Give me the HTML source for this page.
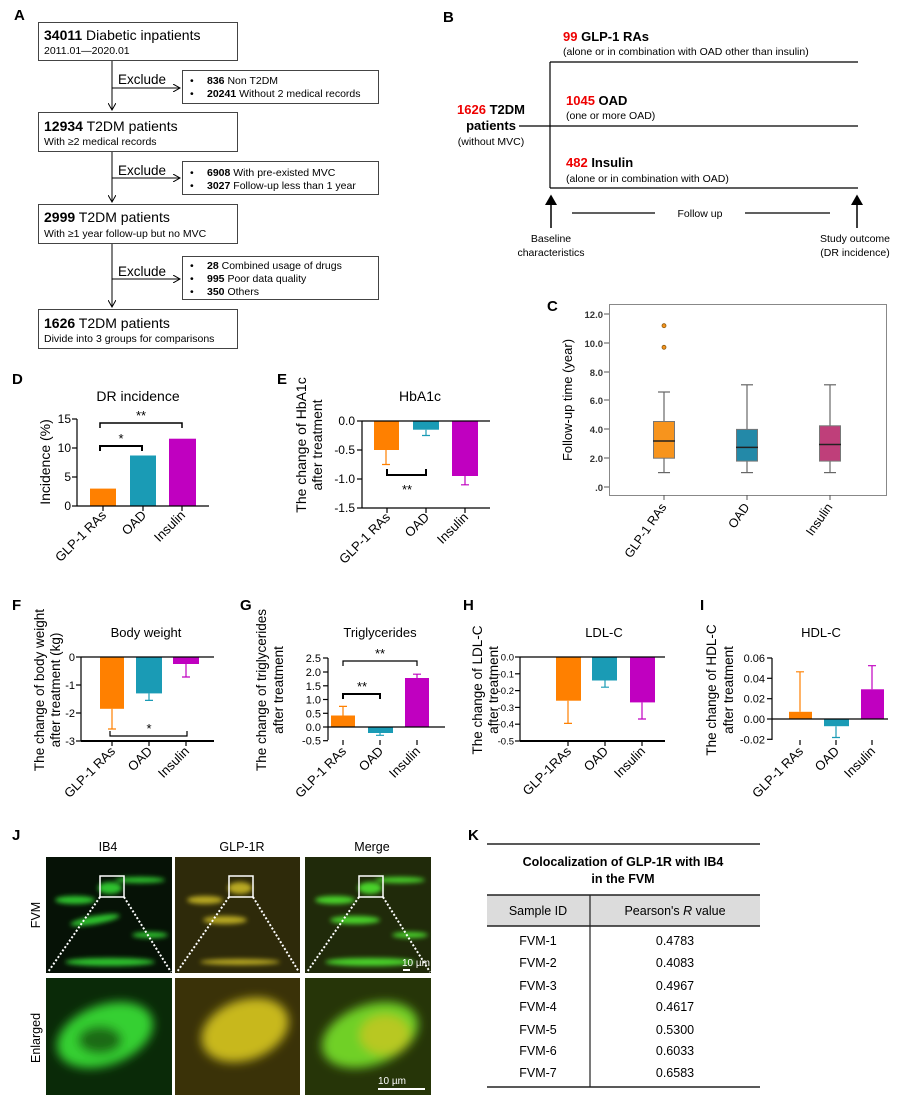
<!DOCTYPE html>
<html><head><meta charset="utf-8"><style>
html,body{margin:0;padding:0;background:#fff;}
svg{display:block;font-family:"Liberation Sans",Arial,sans-serif;}
</style></head><body>
<svg width="902" height="1095" viewBox="0 0 902 1095" xmlns="http://www.w3.org/2000/svg">
<defs>
<marker id="ah" markerWidth="8" markerHeight="8" refX="7" refY="4" orient="auto"><path d="M0,0 L7,4 L0,8" fill="none" stroke="#000" stroke-width="1"/></marker>
<marker id="ahb" markerWidth="8" markerHeight="8" refX="6" refY="4" orient="auto"><path d="M0,0 L7,4 L0,8 Z" fill="#000"/></marker>
<filter id="bl"><feGaussianBlur stdDeviation="2.5"/></filter>
<filter id="bl2"><feGaussianBlur stdDeviation="5"/></filter>
</defs>
<g font-size="15" font-weight="bold">
<text x="14" y="20">A</text><text x="443" y="22">B</text><text x="547" y="311">C</text>
<text x="12" y="384">D</text><text x="277" y="384">E</text>
<text x="12" y="610">F</text><text x="240" y="610">G</text><text x="463" y="610">H</text><text x="700" y="610">I</text>
<text x="12" y="840">J</text><text x="468" y="840">K</text>
</g>
<!-- Panel A -->
<g fill="none" stroke="#444" stroke-width="1">
<rect x="38.5" y="22.5" width="199" height="38"/>
<rect x="182.5" y="70.5" width="196" height="33"/>
<rect x="38.5" y="112.5" width="199" height="39"/>
<rect x="182.5" y="161.5" width="196" height="33"/>
<rect x="38.5" y="204.5" width="199" height="39"/>
<rect x="182.5" y="256.5" width="196" height="43"/>
<rect x="38.5" y="309.5" width="199" height="39"/>
</g>
<g stroke="#000" stroke-width="1" fill="none">
<line x1="112" y1="61" x2="112" y2="110" marker-end="url(#ah)"/>
<line x1="112" y1="88" x2="180" y2="88" marker-end="url(#ah)"/>
<line x1="112" y1="152" x2="112" y2="202" marker-end="url(#ah)"/>
<line x1="112" y1="178" x2="180" y2="178" marker-end="url(#ah)"/>
<line x1="112" y1="244" x2="112" y2="307" marker-end="url(#ah)"/>
<line x1="112" y1="279" x2="180" y2="279" marker-end="url(#ah)"/>
</g>
<g font-size="14">
<text x="44" y="40"><tspan font-weight="bold">34011</tspan> Diabetic inpatients</text>
<text x="44" y="131"><tspan font-weight="bold">12934</tspan> T2DM patients</text>
<text x="44" y="222"><tspan font-weight="bold">2999</tspan> T2DM patients</text>
<text x="44" y="328"><tspan font-weight="bold">1626</tspan> T2DM patients</text>
<text x="118" y="84" font-size="13.5">Exclude</text>
<text x="118" y="175" font-size="13.5">Exclude</text>
<text x="118" y="276" font-size="13.5">Exclude</text>
</g>
<g font-size="10.5">
<text x="44" y="54">2011.01—2020.01</text>
<text x="44" y="145">With ≥2 medical records</text>
<text x="44" y="237">With ≥1 year follow-up but no MVC</text>
<text x="44" y="342">Divide into 3 groups for comparisons</text>
<text x="190" y="84">•</text><text x="207" y="84"><tspan font-weight="bold">836</tspan> Non T2DM</text>
<text x="190" y="97">•</text><text x="207" y="97"><tspan font-weight="bold">20241</tspan> Without 2 medical records</text>
<text x="190" y="176">•</text><text x="207" y="176"><tspan font-weight="bold">6908</tspan> With pre-existed MVC</text>
<text x="190" y="189">•</text><text x="207" y="189"><tspan font-weight="bold">3027</tspan> Follow-up less than 1 year</text>
<text x="190" y="269">•</text><text x="207" y="269"><tspan font-weight="bold">28</tspan> Combined usage of drugs</text>
<text x="190" y="282">•</text><text x="207" y="282"><tspan font-weight="bold">995</tspan> Poor data quality</text>
<text x="190" y="295">•</text><text x="207" y="295"><tspan font-weight="bold">350</tspan> Others</text>
</g>
<!-- Panel B -->
<g stroke="#000" stroke-width="1.2">
<line x1="550" y1="62" x2="550" y2="188"/>
<line x1="550" y1="62" x2="858" y2="62"/>
<line x1="519" y1="126" x2="858" y2="126"/>
<line x1="550" y1="188" x2="858" y2="188"/>
<line x1="551" y1="228" x2="551" y2="196" stroke-width="1.5" marker-end="url(#ahb)"/>
<line x1="857" y1="228" x2="857" y2="196" stroke-width="1.5" marker-end="url(#ahb)"/>
<line x1="572" y1="213" x2="655" y2="213"/>
<line x1="745" y1="213" x2="830" y2="213"/>
</g>
<g font-size="13" font-weight="bold">
<text x="563" y="41"><tspan fill="#e00">99</tspan> GLP-1 RAs</text>
<text x="566" y="105"><tspan fill="#e00">1045</tspan> OAD</text>
<text x="566" y="167"><tspan fill="#e00">482</tspan> Insulin</text>
<text x="491" y="114" text-anchor="middle"><tspan fill="#e00">1626</tspan> T2DM</text>
<text x="491" y="130" text-anchor="middle">patients</text>
</g>
<g font-size="10.5">
<text x="563" y="55">(alone or in combination with OAD other than insulin)</text>
<text x="566" y="119">(one or more OAD)</text>
<text x="566" y="182">(alone or in combination with OAD)</text>
<text x="491" y="145" text-anchor="middle">(without MVC)</text>
<text x="700" y="217" text-anchor="middle">Follow up</text>
<text x="551" y="242" text-anchor="middle">Baseline</text>
<text x="551" y="256" text-anchor="middle">characteristics</text>
<text x="855" y="242" text-anchor="middle">Study outcome</text>
<text x="855" y="256" text-anchor="middle">(DR incidence)</text>
</g>
<!-- Panel C -->
<rect x="609.5" y="304.5" width="277" height="191" fill="none" stroke="#888" stroke-width="1"/>
<g font-size="9.5" font-weight="bold" fill="#333" text-anchor="end">
<text x="603" y="318">12.0</text><text x="603" y="347">10.0</text><text x="603" y="376">8.0</text>
<text x="603" y="404">6.0</text><text x="603" y="433">4.0</text><text x="603" y="462">2.0</text><text x="603" y="491">.0</text>
</g>
<g stroke="#555" stroke-width="1">
<line x1="604" y1="314" x2="609" y2="314"/><line x1="604" y1="343" x2="609" y2="343"/><line x1="604" y1="372" x2="609" y2="372"/><line x1="604" y1="400" x2="609" y2="400"/><line x1="604" y1="429" x2="609" y2="429"/><line x1="604" y1="458" x2="609" y2="458"/><line x1="604" y1="487" x2="609" y2="487"/>
<line x1="664" y1="495" x2="664" y2="500"/><line x1="747" y1="495" x2="747" y2="500"/><line x1="830" y1="495" x2="830" y2="500"/>
</g>
<text transform="translate(572,400) rotate(-90)" font-size="13" text-anchor="middle">Follow-up time (year)</text>
<g stroke="#666" stroke-width="1.2">
<line x1="664" y1="472.6" x2="664" y2="392"/><line x1="658" y1="472.6" x2="670" y2="472.6"/><line x1="658" y1="392" x2="670" y2="392"/>
<line x1="747" y1="472.6" x2="747" y2="384.8"/><line x1="741" y1="472.6" x2="753" y2="472.6"/><line x1="741" y1="384.8" x2="753" y2="384.8"/>
<line x1="830" y1="472.6" x2="830" y2="384.8"/><line x1="824" y1="472.6" x2="836" y2="472.6"/><line x1="824" y1="384.8" x2="836" y2="384.8"/>
</g>
<rect x="653.5" y="421.5" width="21" height="36.7" fill="#f7941d" stroke="#777"/>
<rect x="736.5" y="429.4" width="21" height="31.7" fill="#2389a8" stroke="#777"/>
<rect x="819.5" y="425.8" width="21" height="35.3" fill="#bf3f7a" stroke="#777"/>
<g stroke="#222" stroke-width="1.5"><line x1="653" y1="441" x2="675" y2="441"/><line x1="736" y1="447.4" x2="758" y2="447.4"/><line x1="819" y1="444.5" x2="841" y2="444.5"/></g>
<circle cx="664" cy="347.3" r="2" fill="#f7941d" stroke="#8a5a10" stroke-width="0.8"/>
<circle cx="664" cy="325.7" r="2" fill="#f7941d" stroke="#8a5a10" stroke-width="0.8"/>
<g font-size="12.5" text-anchor="end">
<text transform="translate(667,507) rotate(-55)">GLP-1 RAs</text>
<text transform="translate(750,507) rotate(-55)">OAD</text>
<text transform="translate(833,507) rotate(-55)">Insulin</text>
</g>
<!-- Panel D -->
<text x="138" y="401" font-size="14" text-anchor="middle">DR incidence</text>
<text transform="translate(50,462) rotate(-90)" font-size="14" text-anchor="middle">Incidence (%)</text>
<rect x="90" y="488.6" width="26" height="17.4" fill="#ff8000"/>
<rect x="130" y="455.5" width="26" height="50.5" fill="#1a9bb5"/>
<rect x="169" y="438.7" width="27" height="67.3" fill="#c000c0"/>
<g stroke="#000" stroke-width="1.2" fill="none">
<line x1="77" y1="419" x2="77" y2="506"/><line x1="77" y1="506" x2="209" y2="506"/>
<line x1="72" y1="419" x2="77" y2="419"/><line x1="72" y1="448" x2="77" y2="448"/><line x1="72" y1="477" x2="77" y2="477"/><line x1="72" y1="506" x2="77" y2="506"/>
<line x1="103" y1="506" x2="103" y2="511"/><line x1="143" y1="506" x2="143" y2="511"/><line x1="182" y1="506" x2="182" y2="511"/>
<path d="M100,451 V446 H142 V451" stroke-width="2"/>
<path d="M100,428 V423 H182 V428" stroke-width="1.5"/>
</g>
<text x="121" y="443" font-size="13" text-anchor="middle">*</text>
<text x="141" y="420" font-size="13" text-anchor="middle">**</text>
<g font-size="12" text-anchor="end"><text x="71" y="423">15</text><text x="71" y="452">10</text><text x="71" y="481">5</text><text x="71" y="510">0</text></g>
<g font-size="13" text-anchor="end">
<text transform="translate(107,516) rotate(-45)">GLP-1 RAs</text>
<text transform="translate(147,516) rotate(-45)">OAD</text>
<text transform="translate(186,516) rotate(-45)">Insulin</text>
</g>
<!-- Panel E -->
<text x="420" y="401" font-size="14" text-anchor="middle">HbA1c</text>
<text transform="translate(306,445) rotate(-90)" font-size="14" text-anchor="middle">The change of HbA1c</text>
<text transform="translate(322,445) rotate(-90)" font-size="14" text-anchor="middle">after treatment</text>
<rect x="374" y="421" width="25" height="29" fill="#ff8000"/>
<rect x="413" y="421" width="26" height="8.7" fill="#1a9bb5"/>
<rect x="452" y="421" width="26" height="55" fill="#c000c0"/>
<g stroke-width="1.2" fill="none">
<path d="M386,450 V464.5 M382,464.5 H390" stroke="#ff8000"/>
<path d="M426,429.7 V435.5 M422,435.5 H430" stroke="#1a9bb5"/>
<path d="M465,476 V484.8 M461,484.8 H469" stroke="#c000c0"/>
</g>
<g stroke="#000" stroke-width="1.2" fill="none">
<line x1="362" y1="421" x2="362" y2="508"/><line x1="362" y1="421" x2="490" y2="421"/>
<line x1="357" y1="421" x2="362" y2="421"/><line x1="357" y1="450" x2="362" y2="450"/><line x1="357" y1="479" x2="362" y2="479"/><line x1="357" y1="508" x2="362" y2="508"/>
<line x1="362" y1="508" x2="490" y2="508"/>
<line x1="387" y1="508" x2="387" y2="513"/><line x1="426" y1="508" x2="426" y2="513"/><line x1="465" y1="508" x2="465" y2="513"/>
<path d="M387,469 V475 H426 V469" stroke-width="2"/>
</g>
<text x="407" y="494" font-size="13" text-anchor="middle">**</text>
<g font-size="12" text-anchor="end"><text x="355" y="425">0.0</text><text x="355" y="454">-0.5</text><text x="355" y="483">-1.0</text><text x="355" y="512">-1.5</text></g>
<g font-size="13" text-anchor="end">
<text transform="translate(391,518) rotate(-45)">GLP-1 RAs</text>
<text transform="translate(430,518) rotate(-45)">OAD</text>
<text transform="translate(469,518) rotate(-45)">Insulin</text>
</g>
<!-- Panel F -->
<text x="146" y="637" font-size="13" text-anchor="middle">Body weight</text>
<text transform="translate(44,690) rotate(-90)" font-size="13.5" text-anchor="middle">The change of body weight</text>
<text transform="translate(60,690) rotate(-90)" font-size="13.5" text-anchor="middle">after treatment (kg)</text>
<rect x="100" y="657" width="24" height="51.8" fill="#ff8000"/>
<rect x="136" y="657" width="26" height="36.4" fill="#1a9bb5"/>
<rect x="173" y="657" width="26" height="7" fill="#c000c0"/>
<g stroke-width="1.2" fill="none">
<path d="M112,708.8 V729 M108,729 H116" stroke="#ff8000"/>
<path d="M149,693.4 V700.4 M145,700.4 H153" stroke="#1a9bb5"/>
<path d="M186,664 V677 M182,677 H190" stroke="#c000c0"/>
</g>
<g stroke="#000" stroke-width="1.2" fill="none">
<line x1="81" y1="657" x2="81" y2="741"/><line x1="81" y1="657" x2="214" y2="657"/><line x1="81" y1="741" x2="214" y2="741" stroke-width="2"/>
<line x1="76" y1="657" x2="81" y2="657"/><line x1="76" y1="685" x2="81" y2="685"/><line x1="76" y1="713" x2="81" y2="713"/><line x1="76" y1="741" x2="81" y2="741"/>
<line x1="112" y1="741" x2="112" y2="746"/><line x1="149" y1="741" x2="149" y2="746"/><line x1="186" y1="741" x2="186" y2="746"/>
<path d="M110,731 V736 H187 V731"/>
</g>
<text x="149" y="733" font-size="13" text-anchor="middle">*</text>
<g font-size="11" text-anchor="end"><text x="75" y="661">0</text><text x="75" y="689">-1</text><text x="75" y="717">-2</text><text x="75" y="745">-3</text></g>
<g font-size="13" text-anchor="end">
<text transform="translate(116,752) rotate(-45)">GLP-1 RAs</text>
<text transform="translate(153,752) rotate(-45)">OAD</text>
<text transform="translate(190,752) rotate(-45)">Insulin</text>
</g>
<!-- Panel G -->
<text x="380" y="637" font-size="13" text-anchor="middle">Triglycerides</text>
<text transform="translate(266,690) rotate(-90)" font-size="13.5" text-anchor="middle">The change of triglycerides</text>
<text transform="translate(283,690) rotate(-90)" font-size="13.5" text-anchor="middle">after treatment</text>
<rect x="331" y="715.5" width="24" height="11.5" fill="#ff8000"/>
<rect x="368" y="727" width="25" height="6" fill="#1a9bb5"/>
<rect x="405" y="678" width="24" height="49" fill="#c000c0"/>
<g stroke-width="1.2" fill="none">
<path d="M343,715.5 V706.4 M339,706.4 H347" stroke="#ff8000"/>
<path d="M380,733 V735.3 M376,735.3 H384" stroke="#1a9bb5"/>
<path d="M417,678 V674.2 M413,674.2 H421" stroke="#c000c0"/>
</g>
<g stroke="#000" stroke-width="1.2" fill="none">
<line x1="328" y1="658" x2="328" y2="740"/><line x1="328" y1="727" x2="445" y2="727"/>
<line x1="323" y1="658" x2="328" y2="658"/><line x1="323" y1="672" x2="328" y2="672"/><line x1="323" y1="685.8" x2="328" y2="685.8"/><line x1="323" y1="699.5" x2="328" y2="699.5"/><line x1="323" y1="713.3" x2="328" y2="713.3"/><line x1="323" y1="727" x2="328" y2="727"/><line x1="323" y1="740.7" x2="328" y2="740.7"/>
<line x1="343" y1="740" x2="343" y2="745"/><line x1="380" y1="740" x2="380" y2="745"/><line x1="417" y1="740" x2="417" y2="745"/>
<path d="M343,699 V694 H380 V699" stroke-width="2"/>
<path d="M343,666 V661 H417 V666"/>
</g>
<text x="362" y="691" font-size="13" text-anchor="middle">**</text>
<text x="380" y="658" font-size="13" text-anchor="middle">**</text>
<g font-size="11" text-anchor="end"><text x="321" y="662">2.5</text><text x="321" y="676">2.0</text><text x="321" y="689.8">1.5</text><text x="321" y="703.5">1.0</text><text x="321" y="717.3">0.5</text><text x="321" y="731">0.0</text><text x="321" y="744.7">-0.5</text></g>
<g font-size="13" text-anchor="end">
<text transform="translate(347,752) rotate(-45)">GLP-1 RAs</text>
<text transform="translate(384,752) rotate(-45)">OAD</text>
<text transform="translate(421,752) rotate(-45)">Insulin</text>
</g>
<!-- Panel H -->
<text x="604" y="637" font-size="13" text-anchor="middle">LDL-C</text>
<text transform="translate(482,690) rotate(-90)" font-size="13.5" text-anchor="middle">The change of LDL-C</text>
<text transform="translate(498,690) rotate(-90)" font-size="13.5" text-anchor="middle">after treatment</text>
<rect x="556" y="657" width="25" height="43.7" fill="#ff8000"/>
<rect x="592" y="657" width="25" height="23.5" fill="#1a9bb5"/>
<rect x="630" y="657" width="25" height="45.4" fill="#c000c0"/>
<g stroke-width="1.2" fill="none">
<path d="M568,700.7 V723.4 M564,723.4 H572" stroke="#ff8000"/>
<path d="M605,680.5 V687.2 M601,687.2 H609" stroke="#1a9bb5"/>
<path d="M642,702.4 V719 M638,719 H646" stroke="#c000c0"/>
</g>
<g stroke="#000" stroke-width="1.2" fill="none">
<line x1="520" y1="657" x2="520" y2="741"/><line x1="520" y1="657" x2="665" y2="657"/><line x1="520" y1="741" x2="665" y2="741" stroke-width="2"/>
<line x1="515" y1="657" x2="520" y2="657"/><line x1="515" y1="673.8" x2="520" y2="673.8"/><line x1="515" y1="690.6" x2="520" y2="690.6"/><line x1="515" y1="707.4" x2="520" y2="707.4"/><line x1="515" y1="724.2" x2="520" y2="724.2"/><line x1="515" y1="741" x2="520" y2="741"/>
<line x1="568" y1="741" x2="568" y2="746"/><line x1="605" y1="741" x2="605" y2="746"/><line x1="642" y1="741" x2="642" y2="746"/>
</g>
<g font-size="9.5" text-anchor="end"><text x="514" y="660.5">0.0</text><text x="514" y="677.3">-0.1</text><text x="514" y="694.1">-0.2</text><text x="514" y="710.9">-0.3</text><text x="514" y="727.7">-0.4</text><text x="514" y="744.5">-0.5</text></g>
<g font-size="13" text-anchor="end">
<text transform="translate(572,752) rotate(-45)">GLP-1RAs</text>
<text transform="translate(609,752) rotate(-45)">OAD</text>
<text transform="translate(646,752) rotate(-45)">Insulin</text>
</g>
<!-- Panel I -->
<text x="821" y="637" font-size="13" text-anchor="middle">HDL-C</text>
<text transform="translate(716,690) rotate(-90)" font-size="13.5" text-anchor="middle">The change of HDL-C</text>
<text transform="translate(733,690) rotate(-90)" font-size="13.5" text-anchor="middle">after treatment</text>
<rect x="789" y="711.8" width="23" height="7.2" fill="#ff8000"/>
<rect x="824" y="719" width="25" height="7.2" fill="#1a9bb5"/>
<rect x="861" y="689.3" width="23" height="29.7" fill="#c000c0"/>
<g stroke-width="1.2" fill="none">
<path d="M800,711.8 V671.8 M796,671.8 H804" stroke="#ff8000"/>
<path d="M836,726.2 V737.5 M832,737.5 H840" stroke="#1a9bb5"/>
<path d="M872,689.3 V665.7 M868,665.7 H876" stroke="#c000c0"/>
</g>
<g stroke="#000" stroke-width="1.2" fill="none">
<line x1="772" y1="658" x2="772" y2="740"/><line x1="772" y1="719" x2="888" y2="719"/>
<line x1="767" y1="658" x2="772" y2="658"/><line x1="767" y1="678.3" x2="772" y2="678.3"/><line x1="767" y1="698.7" x2="772" y2="698.7"/><line x1="767" y1="719" x2="772" y2="719"/><line x1="767" y1="739.3" x2="772" y2="739.3"/>
<line x1="800" y1="740" x2="800" y2="745"/><line x1="836" y1="740" x2="836" y2="745"/><line x1="872" y1="740" x2="872" y2="745"/>
</g>
<g font-size="11" text-anchor="end"><text x="765" y="662">0.06</text><text x="765" y="682.3">0.04</text><text x="765" y="702.7">0.02</text><text x="765" y="723">0.00</text><text x="765" y="743.3">-0.02</text></g>
<g font-size="13" text-anchor="end">
<text transform="translate(804,752) rotate(-45)">GLP-1 RAs</text>
<text transform="translate(840,752) rotate(-45)">OAD</text>
<text transform="translate(876,752) rotate(-45)">Insulin</text>
</g>
<!-- Panel J -->
<g font-size="12.5" text-anchor="middle"><text x="108" y="851">IB4</text><text x="242" y="851">GLP-1R</text><text x="372" y="851">Merge</text></g>
<text transform="translate(40,915) rotate(-90)" font-size="12.5" text-anchor="middle">FVM</text>
<text transform="translate(40,1038) rotate(-90)" font-size="12.5" text-anchor="middle">Enlarged</text>
<rect x="46" y="857" width="126" height="116" fill="#061206"/>
<rect x="175" y="857" width="125" height="116" fill="#2e2a0a"/>
<rect x="305" y="857" width="126" height="116" fill="#202a0a"/>
<g filter="url(#bl)">
<g fill="#2ec22e"><ellipse cx="110" cy="888" rx="12" ry="6"/><ellipse cx="75" cy="900" rx="20" ry="4"/><ellipse cx="95" cy="920" rx="25" ry="4" transform="rotate(-10 95 920)"/><ellipse cx="140" cy="880" rx="25" ry="3"/><ellipse cx="110" cy="962" rx="45" ry="4"/><ellipse cx="150" cy="935" rx="18" ry="3"/></g>
<g fill="#b8a820"><ellipse cx="240" cy="888" rx="12" ry="6"/><ellipse cx="205" cy="900" rx="18" ry="4"/><ellipse cx="225" cy="920" rx="22" ry="4"/><ellipse cx="240" cy="962" rx="40" ry="3"/></g>
<g fill="#4ad22a"><ellipse cx="370" cy="888" rx="12" ry="6"/><ellipse cx="335" cy="900" rx="20" ry="4"/><ellipse cx="355" cy="920" rx="25" ry="4"/><ellipse cx="400" cy="880" rx="25" ry="3"/><ellipse cx="370" cy="962" rx="45" ry="4"/><ellipse cx="410" cy="935" rx="18" ry="3"/></g>
</g>
<g fill="none" stroke="#fff" stroke-width="1.5">
<rect x="100" y="876" width="24" height="21"/><rect x="229" y="876" width="24" height="21"/><rect x="359" y="876" width="24" height="21"/>
</g>
<g stroke="#fff" stroke-width="2" stroke-dasharray="2,2">
<line x1="100" y1="897" x2="48" y2="972"/><line x1="124" y1="897" x2="171" y2="972"/>
<line x1="229" y1="897" x2="177" y2="972"/><line x1="253" y1="897" x2="299" y2="972"/>
<line x1="359" y1="897" x2="307" y2="972"/><line x1="383" y1="897" x2="430" y2="972"/>
</g>
<text x="402" y="966" font-size="10" fill="#fff">10 µm</text>
<line x1="403" y1="970" x2="410" y2="970" stroke="#fff" stroke-width="2"/>
<rect x="46" y="978" width="126" height="117" fill="#0a2a08"/>
<rect x="175" y="978" width="125" height="117" fill="#3a3208"/>
<rect x="305" y="978" width="126" height="117" fill="#263508"/>
<g filter="url(#bl2)">
<ellipse cx="105" cy="1035" rx="50" ry="30" fill="#36d030" transform="rotate(-20 105 1035)"/>
<ellipse cx="100" cy="1040" rx="22" ry="14" fill="#1a6a14"/>
<ellipse cx="245" cy="1030" rx="45" ry="30" fill="#c8b81c" transform="rotate(-20 245 1030)"/>
<ellipse cx="370" cy="1035" rx="50" ry="30" fill="#70d028" transform="rotate(-20 370 1035)"/>
<ellipse cx="385" cy="1035" rx="25" ry="20" fill="#b8c820"/>
</g>
<text x="378" y="1084" font-size="10" fill="#fff">10 µm</text>
<line x1="378" y1="1089" x2="425" y2="1089" stroke="#fff" stroke-width="2"/>
<!-- Panel K -->
<line x1="487" y1="844" x2="760" y2="844" stroke="#222" stroke-width="1.5"/>
<g font-size="12.5" font-weight="bold" text-anchor="middle"><text x="623" y="866">Colocalization of GLP-1R with IB4</text><text x="623" y="883">in the FVM</text></g>
<rect x="487" y="895" width="273" height="31" fill="#dcdcdc"/>
<line x1="487" y1="895" x2="760" y2="895" stroke="#222" stroke-width="1.5"/>
<line x1="487" y1="926" x2="760" y2="926" stroke="#222" stroke-width="1.5"/>
<line x1="590" y1="895" x2="590" y2="1087" stroke="#222" stroke-width="1.2"/>
<line x1="487" y1="1087" x2="760" y2="1087" stroke="#222" stroke-width="1.5"/>
<g font-size="12.5" text-anchor="middle">
<text x="538" y="915">Sample ID</text><text x="675" y="915">Pearson's <tspan font-style="italic">R</tspan> value</text>
<text x="538" y="945">FVM-1</text><text x="675" y="945">0.4783</text>
<text x="538" y="967">FVM-2</text><text x="675" y="967">0.4083</text>
<text x="538" y="990">FVM-3</text><text x="675" y="990">0.4967</text>
<text x="538" y="1011">FVM-4</text><text x="675" y="1011">0.4617</text>
<text x="538" y="1034">FVM-5</text><text x="675" y="1034">0.5300</text>
<text x="538" y="1055">FVM-6</text><text x="675" y="1055">0.6033</text>
<text x="538" y="1077">FVM-7</text><text x="675" y="1077">0.6583</text>
</g>
</svg>
</body></html>
